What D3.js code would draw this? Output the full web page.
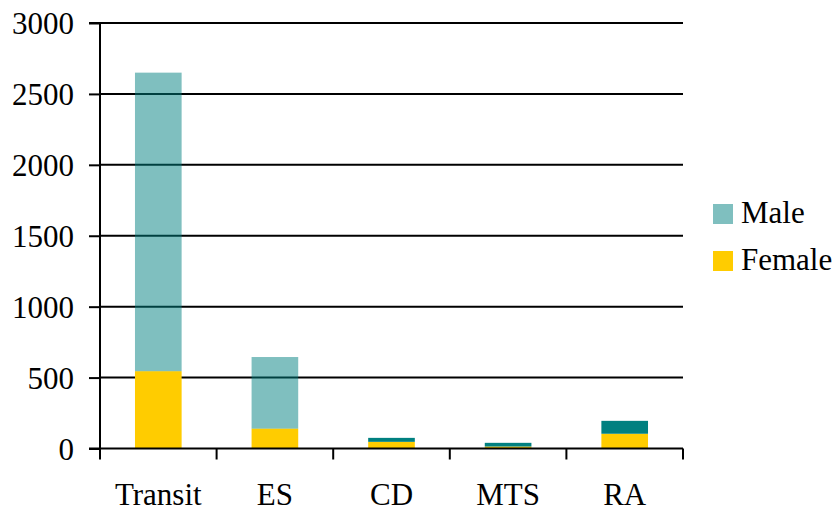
<!DOCTYPE html>
<html>
<head>
<meta charset="utf-8">
<script src="https://cdn.jsdelivr.net/npm/d3@7"></script>
<style>
  html, body { margin: 0; padding: 0; background: #fff; }
</style>
</head>
<body>
<svg id="chart" width="838" height="508"></svg>
<script>
// Stacked counts by category
const categories = ["Transit", "ES", "CD", "MTS", "RA"];
const female = [545, 140, 47, 14, 104];
const male = [2105, 505, 28, 26, 91];
// Male segments of the first two columns are drawn translucent
const maleOpacity = [0.5, 0.5, 1, 1, 1];
const yTicks = [0, 500, 1000, 1500, 2000, 2500, 3000];
const seriesNames = ["Male", "Female"];

const colors = { Male: "#008080", Female: "#FFCC00" };
const FONT = '"Liberation Serif"';
const FS = 31;

const svg = d3.select("#chart");
const margin = { left: 100, right: 155, top: 23, bottom: 59.5 };
const W = 838, H = 508;

const x = d3.scaleBand()
  .domain(categories)
  .range([margin.left, W - margin.right])
  .paddingInner(0.6)
  .paddingOuter(0.3);

const y = d3.scaleLinear()
  .domain([0, 3000])
  .range([H - margin.bottom, margin.top]);

const rows = categories.map((c, i) => ({ cat: c, Female: female[i], Male: male[i], op: maleOpacity[i] }));
const stacked = d3.stack().keys(["Female", "Male"])(rows);

// gridlines
svg.append("g")
  .selectAll("line")
  .data(yTicks.filter(t => t > 0))
  .join("line")
  .attr("x1", margin.left).attr("x2", W - margin.right)
  .attr("y1", d => y(d)).attr("y2", d => y(d))
  .attr("stroke", "#000").attr("stroke-width", 2);

// bars
stacked.forEach(layer => {
  svg.append("g")
    .selectAll("rect")
    .data(layer)
    .join("rect")
    .attr("x", d => x(d.data.cat))
    .attr("width", x.bandwidth())
    .attr("y", d => y(d[1]))
    .attr("height", d => y(d[0]) - y(d[1]))
    .attr("fill", colors[layer.key])
    .attr("fill-opacity", d => layer.key === "Male" ? d.data.op : 1);
});

// y axis
const yAxis = d3.axisLeft(y).tickValues(yTicks).tickSize(11).tickPadding(15).tickFormat(d3.format("d"));
const gy = svg.append("g").attr("transform", `translate(${margin.left},0)`).call(yAxis);
gy.attr("font-family", null).attr("font-size", null);
gy.select(".domain").attr("stroke", "#000").attr("stroke-width", 2).attr("d", `M-11,${y(0)}H0V${y(3000)}H-11`);
gy.selectAll(".tick line").attr("stroke", "#000").attr("stroke-width", 2);
gy.selectAll(".tick text")
  .attr("font-size", FS).style("font-family", FONT).attr("fill", "#000")
  .attr("dy", "0.34em");

// x axis with boundary ticks between categories
const step = x.step();
const bounds = d3.range(categories.length + 1).map(i => margin.left + i * step);
const gx = svg.append("g");
gx.append("line")
  .attr("x1", margin.left).attr("x2", W - margin.right)
  .attr("y1", y(0)).attr("y2", y(0))
  .attr("stroke", "#000").attr("stroke-width", 2);
gx.selectAll("line.tk")
  .data(bounds)
  .join("line")
  .attr("class", "tk")
  .attr("x1", d => d).attr("x2", d => d)
  .attr("y1", y(0)).attr("y2", y(0) + 11)
  .attr("stroke", "#000").attr("stroke-width", 2);
gx.selectAll("text")
  .data(categories)
  .join("text")
  .attr("x", d => x(d) + x.bandwidth() / 2)
  .attr("y", 505)
  .attr("text-anchor", "middle")
  .attr("font-size", FS)
  .style("font-family", FONT)
  .text(d => d);

// legend
const legend = svg.append("g").attr("transform", "translate(713,204)");
seriesNames.forEach((name, i) => {
  const g = legend.append("g").attr("transform", `translate(0,${i * 47})`);
  g.append("rect").attr("width", 20).attr("height", 20)
    .attr("fill", colors[name]).attr("fill-opacity", name === "Male" ? 0.5 : 1);
  g.append("text").attr("x", 28).attr("y", 19).attr("font-size", FS)
    .style("font-family", FONT).text(name);
});
</script>
</body>
</html>
